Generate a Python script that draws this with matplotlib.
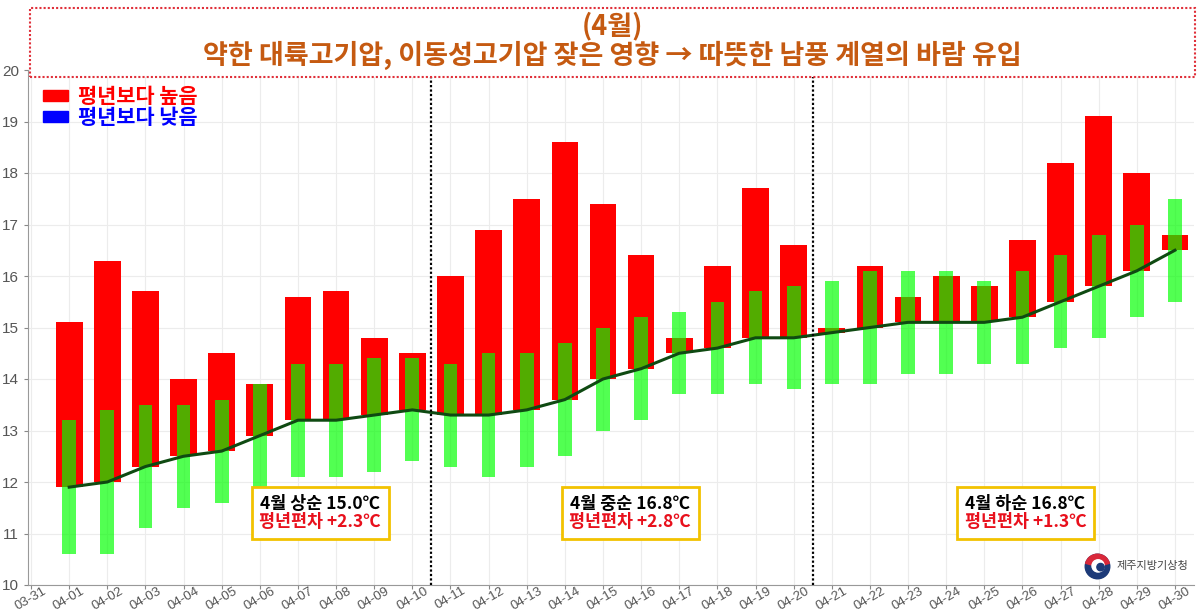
import matplotlib
matplotlib.use('Agg')
import matplotlib.pyplot as plt
from matplotlib.patches import Patch, Rectangle, Wedge, Circle
from matplotlib.offsetbox import TextArea, VPacker, AnnotationBbox

plt.rcParams['font.family'] = ['Noto Sans CJK KR', 'DejaVu Sans']

# tick labels (03-31 .. 04-30)
dates = ['03-31', '04-01', '04-02', '04-03', '04-04', '04-05', '04-06', '04-07',
         '04-08', '04-09', '04-10', '04-11', '04-12', '04-13', '04-14', '04-15',
         '04-16', '04-17', '04-18', '04-19', '04-20', '04-21', '04-22', '04-23',
         '04-24', '04-25', '04-26', '04-27', '04-28', '04-29', '04-30']

# daily mean temperature (observed) for 04-01 .. 04-30
obs = [15.1, 16.3, 15.7, 14.0, 14.5, 13.9, 15.6, 15.7, 14.8, 14.5,
       16.0, 16.9, 17.5, 18.6, 17.4, 16.4, 14.8, 16.2, 17.7, 16.6,
       15.0, 16.2, 15.6, 16.0, 15.8, 16.7, 18.2, 19.1, 18.0, 16.8]
# normal (평년) mean temperature
normal = [11.9, 12.0, 12.3, 12.5, 12.6, 12.9, 13.2, 13.2, 13.3, 13.4,
          13.3, 13.3, 13.4, 13.6, 14.0, 14.2, 14.5, 14.6, 14.8, 14.8,
          14.9, 15.0, 15.1, 15.1, 15.1, 15.2, 15.5, 15.8, 16.1, 16.5]
# normal range upper / lower
norm_hi = [13.2, 13.4, 13.5, 13.5, 13.6, 13.9, 14.3, 14.3, 14.4, 14.4,
           14.3, 14.5, 14.5, 14.7, 15.0, 15.2, 15.3, 15.5, 15.7, 15.8,
           15.9, 16.1, 16.1, 16.1, 15.9, 16.1, 16.4, 16.8, 17.0, 17.5]
norm_lo = [10.6, 10.6, 11.1, 11.5, 11.6, 11.9, 12.1, 12.1, 12.2, 12.4,
           12.3, 12.1, 12.3, 12.5, 13.0, 13.2, 13.7, 13.7, 13.9, 13.8,
           13.9, 13.9, 14.1, 14.1, 14.3, 14.3, 14.6, 14.8, 15.2, 15.5]

period_labels = ['4월 상순 15.0℃', '4월 중순 16.8℃', '4월 하순 16.8℃']
period_anoms = ['평년편차 +2.3℃', '평년편차 +2.8℃', '평년편차 +1.3℃']

title1 = '(4월)'
title2 = '약한 대륙고기압, 이동성고기압 잦은 영향 → 따뜻한 남풍 계열의 바람 유입'

W, H = 1198, 616
fig = plt.figure(figsize=(W / 100, H / 100), dpi=100)
ax = fig.add_axes([28 / W, 1 - 585 / H, (1194 - 28) / W, (585 - 70) / H])

x = list(range(1, len(obs) + 1))
colors = ['#ff0000' if o >= n else '#0000ff' for o, n in zip(obs, normal)]
ax.bar(x, [o - n for o, n in zip(obs, normal)], bottom=normal, width=0.7,
       color=colors, zorder=2)
ax.bar(x, [h - l for h, l in zip(norm_hi, norm_lo)], bottom=norm_lo, width=0.36,
       color='#00ff00', alpha=0.68, zorder=3)
ax.plot(x, normal, color='#0f4a12', lw=2.2, zorder=4)

for d in [10.5, 20.5]:
    ax.axvline(d, color='black', ls=(0, (1, 1)), lw=1.6, zorder=5)

ax.set_xlim(-0.08, 30.5)
ax.set_ylim(10, 20)
ax.set_xticks(range(len(dates)))
ax.set_xticklabels(dates, rotation=30, fontsize=9.5, color='#555555',
                   family='Liberation Sans')
ax.set_yticks(range(10, 21))
ax.set_yticklabels([str(v) for v in range(10, 21)], fontsize=11, color='#555555',
                   family='Liberation Sans')
ax.tick_params(colors='#888888', length=3, labelcolor='#555555')
ax.tick_params(axis='x', pad=-3)
ax.grid(color='#ececec', lw=0.8)
ax.set_axisbelow(True)
for s in ['top', 'right']:
    ax.spines[s].set_visible(False)
for s in ['left', 'bottom']:
    ax.spines[s].set_color('#999999')

handles = [Patch(color='#ff0000', label='평년보다 높음'),
           Patch(color='#0000ff', label='평년보다 낮음')]
ax.legend(handles=handles, loc='upper left', bbox_to_anchor=(0.0, 0.998),
          frameon=False, labelcolor=['#ff0000', '#0000ff'],
          prop={'size': 15, 'weight': 'bold'}, handlelength=1.2, handleheight=0.45,
          handletextpad=0.5, labelspacing=0.0, borderaxespad=0.3)

# period summary boxes
box_x = [7.58, 15.71, 26.08]
for xc, t1, t2 in zip(box_x, period_labels, period_anoms):
    ta1 = TextArea(t1, textprops=dict(color='black', fontsize=12.5, fontweight='bold'))
    ta2 = TextArea(t2, textprops=dict(color='#e8101c', fontsize=12.5, fontweight='bold'))
    pack = VPacker(children=[ta1, ta2], align='center', pad=0, sep=0)
    ab = AnnotationBbox(pack, (xc, 11.4), frameon=True, pad=0.55, box_alignment=(0.5, 0.5),
                        bboxprops=dict(edgecolor='#f2c200', lw=2, facecolor='white'),
                        zorder=6)
    ax.add_artist(ab)

# title box
rect = Rectangle((30 / W, 1 - 77 / H), (1195 - 30) / W, (77 - 8) / H,
                 transform=fig.transFigure, facecolor='white', edgecolor='#e0303a',
                 ls=(0, (1, 1)), lw=1.5, zorder=10)
fig.add_artist(rect)
fig.text(612 / W, 1 - 26 / H, title1, ha='center', va='center', fontsize=19.5,
         fontweight='bold', color='#c55a11', zorder=11)
fig.text(612 / W, 1 - 55 / H, title2, ha='center', va='center', fontsize=19.5,
         fontweight='bold', color='#c55a11', zorder=11)

# logo
lax = fig.add_axes([1084 / W, 1 - 580 / H, 27 / W, 27 / H])
lax.set_xlim(-1.1, 1.1)
lax.set_ylim(-1.1, 1.1)
lax.set_aspect('equal')
lax.axis('off')
lax.add_patch(Circle((0, 0), 1, color='#1c3a78'))
lax.add_patch(Wedge((0, 0), 1, 15, 165, color='#d9283a'))
lax.add_patch(Circle((0.05, 0.05), 0.5, color='white'))
lax.add_patch(Circle((0.25, -0.05), 0.3, color='#1c3a78'))
fig.text(1117 / W, 1 - 566 / H, '제주지방기상청', ha='left', va='center', fontsize=8,
         color='#444444')

fig.savefig('out.png', dpi=100)
